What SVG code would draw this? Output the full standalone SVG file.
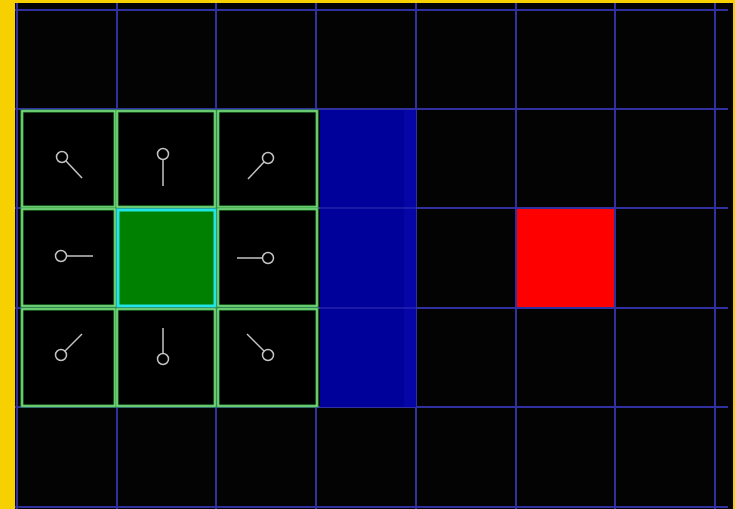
<svg xmlns="http://www.w3.org/2000/svg" width="735" height="509" viewBox="0 0 735 509">
  <defs>
    <style>
      .grid line { stroke: #3030a0; stroke-width: 2; }
      .cellbox { fill: #000; stroke: #2fa83a; stroke-width: 3; }
      .cellcore { fill: none; stroke: #a6e8a6; stroke-width: 1; }
      .icon { fill: none; stroke: #c4c4c4; stroke-width: 1.5; }
      .wallline { stroke: #4a4ac0; stroke-width: 1; opacity: 0.7; }
    </style>
    <g id="pin">
      <circle class="icon" cx="0" cy="0" r="5.5"/>
    </g>
  </defs>
  <rect x="0" y="0" width="735" height="509" fill="#f6d000"/>
  <rect x="15" y="3" width="718" height="506" fill="#030303"/>

  <g id="grid" class="grid">
    <line x1="15" y1="10" x2="728" y2="10"/>
    <line x1="15" y1="109" x2="728" y2="109"/>
    <line x1="15" y1="208" x2="728" y2="208"/>
    <line x1="15" y1="308" x2="728" y2="308"/>
    <line x1="15" y1="407" x2="728" y2="407"/>
    <line x1="15" y1="507" x2="728" y2="507"/>
    <line x1="17" y1="3" x2="17" y2="509"/>
    <line x1="117" y1="3" x2="117" y2="509"/>
    <line x1="216" y1="3" x2="216" y2="509"/>
    <line x1="316" y1="3" x2="316" y2="509"/>
    <line x1="416" y1="3" x2="416" y2="509"/>
    <line x1="516" y1="3" x2="516" y2="509"/>
    <line x1="615" y1="3" x2="615" y2="509"/>
    <line x1="715" y1="3" x2="715" y2="509"/>
  </g>

  <g id="wall">
    <rect x="320" y="110" width="96" height="297" fill="#00009a"/>
    <rect x="404" y="110" width="12" height="297" fill="#0a0ab0" opacity="0.6"/>
    <line class="wallline" x1="320" y1="208" x2="416" y2="208"/>
    <line class="wallline" x1="320" y1="308" x2="416" y2="308"/>
  </g>

  <g id="target">
    <rect x="517" y="209" width="97" height="98" fill="#ff0000"/>
  </g>

  <g id="cell-nw">
    <rect class="cellbox" x="22" y="111" width="93" height="96"/>
    <rect class="cellcore" x="22" y="111" width="93" height="96"/>
    <use href="#pin" x="62" y="157"/>
    <line class="icon" x1="66" y1="161" x2="82" y2="178"/>
  </g>
  <g id="cell-n">
    <rect class="cellbox" x="117" y="111" width="98" height="96"/>
    <rect class="cellcore" x="117" y="111" width="98" height="96"/>
    <use href="#pin" x="163" y="154"/>
    <line class="icon" x1="163" y1="160" x2="163" y2="186"/>
  </g>
  <g id="cell-ne">
    <rect class="cellbox" x="218" y="111" width="99" height="96"/>
    <rect class="cellcore" x="218" y="111" width="99" height="96"/>
    <use href="#pin" x="268" y="158"/>
    <line class="icon" x1="264" y1="162" x2="248" y2="179"/>
  </g>
  <g id="cell-w">
    <rect class="cellbox" x="22" y="209" width="93" height="97"/>
    <rect class="cellcore" x="22" y="209" width="93" height="97"/>
    <use href="#pin" x="61" y="256"/>
    <line class="icon" x1="67" y1="256" x2="93" y2="256"/>
  </g>
  <g id="cell-center">
    <rect x="118" y="210" width="97" height="96" fill="#008000" stroke="#22e6e6" stroke-width="3"/>
  </g>
  <g id="cell-e">
    <rect class="cellbox" x="218" y="209" width="99" height="97"/>
    <rect class="cellcore" x="218" y="209" width="99" height="97"/>
    <use href="#pin" x="268" y="258"/>
    <line class="icon" x1="237" y1="258" x2="262" y2="258"/>
  </g>
  <g id="cell-sw">
    <rect class="cellbox" x="22" y="309" width="93" height="97"/>
    <rect class="cellcore" x="22" y="309" width="93" height="97"/>
    <use href="#pin" x="61" y="355"/>
    <line class="icon" x1="65" y1="351" x2="82" y2="334"/>
  </g>
  <g id="cell-s">
    <rect class="cellbox" x="117" y="309" width="98" height="97"/>
    <rect class="cellcore" x="117" y="309" width="98" height="97"/>
    <use href="#pin" x="163" y="359"/>
    <line class="icon" x1="163" y1="328" x2="163" y2="353"/>
  </g>
  <g id="cell-se">
    <rect class="cellbox" x="218" y="309" width="99" height="97"/>
    <rect class="cellcore" x="218" y="309" width="99" height="97"/>
    <use href="#pin" x="268" y="355"/>
    <line class="icon" x1="247" y1="334" x2="264" y2="351"/>
  </g>

  <g id="connectors"></g>
</svg>
